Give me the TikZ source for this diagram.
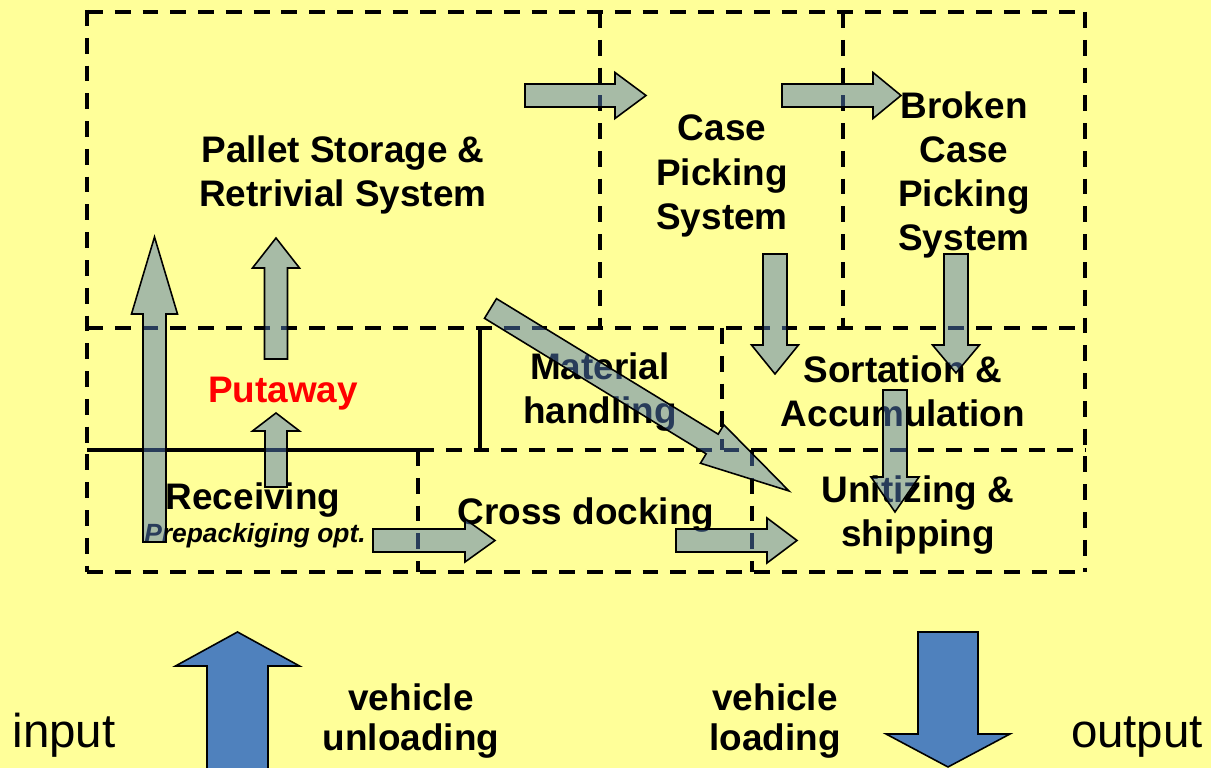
\documentclass[tikz,border=0pt]{standalone}
\usepackage{fontspec}
\setmainfont{Liberation Sans}
\usetikzlibrary{calc}
\definecolor{bg}{RGB}{255,255,153}
\definecolor{flowblue}{RGB}{80,120,180}
\definecolor{truckblue}{RGB}{79,129,189}
\tikzset{
  area/.style={draw,line width=1pt,dash pattern=on 4.5pt off 3.4pt},
  wall/.style={draw,line width=1pt},
  boxtext/.style={font=\bfseries\fontsize{10.5}{12.6}\selectfont,align=center,inner sep=0pt},
  flow/.style={draw=black,line width=0.45pt,fill=flowblue,fill opacity=0.5},
  truck/.style={draw=black,line width=0.45pt,fill=truckblue},
}
% tail, tip, shaft half width, head half width, head length
\newcommand{\blockarrow}[6][flow]{%
  \coordinate (ba-b) at ($(#3)!#6!(#2)$);
  \draw[#1] ($(#2)!#4!90:(#3)$) -- ($(ba-b)!#4!90:(#3)$) -- ($(ba-b)!#5!90:(#3)$)
    -- (#3) -- ($(ba-b)!#5!-90:(#3)$) -- ($(ba-b)!#4!-90:(#3)$)
    -- ($(#2)!#4!-90:(#3)$) -- cycle;
}
\begin{document}
\begin{tikzpicture}[x=0.01cm,y=-0.01cm]
	\useasboundingbox (0,0) rectangle (1211,768);
	\fill[bg] (0,0) rectangle (1211,768);
	
	\node[boxtext] (pallet) at (343,175) {Pallet Storage \&\\Retrivial System};
	\node[boxtext] (case) at (722,176) {Case\\Picking\\System};
	\node[boxtext] (broken) at (964,175) {Broken\\Case\\Picking\\System};
	\node[boxtext,text=red] (putaway) at (283,394) {Putaway};
	\node[boxtext] (mat) at (600,392) {Material\\handling};
	\node[boxtext] (sort) at (903,391) {Sortation \&\\Accumulation};
	\node[boxtext] (recv) at (253,500) {Receiving};
	\node[boxtext,font=\bfseries\itshape\fontsize{7.5}{9}\selectfont] (prepack) at (255,536) {Prepackiging opt.};
	\node[boxtext] (cross) at (586,515) {Cross docking};
	\node[boxtext] (unit) at (918,515) {Unitizing \&\\shipping};
	
	\node[boxtext,font=\bfseries\fontsize{10.5}{11.4}\selectfont] (unload) at (411,721) {vehicle\\unloading};
	\node[boxtext,font=\bfseries\fontsize{10.5}{11.4}\selectfont] (load) at (775,721) {vehicle\\loading};
	\node[inner sep=0pt,anchor=base,font=\fontsize{13.5}{16}\selectfont] (in) at (64,748) {input};
	\node[inner sep=0pt,anchor=base,font=\fontsize{13.5}{16}\selectfont] (out) at (1137,748) {output};
	
	\draw[area] (87,12) -- (1085,12);
	\draw[area] (87,328) -- (1085,328);
	\draw[area] (418,450) -- (1085,450);
	\draw[area] (87,572) -- (1085,572);
	\draw[wall] (87,450) -- (418,450);
	\draw[area] (87,10) -- (87,572);
	\draw[area] (1085,12) -- (1085,572);
	\draw[area] (600,12) -- (600,328);
	\draw[area] (843,12) -- (843,328);
	\draw[wall] (480,328) -- (480,450);
	\draw[area] (722,328) -- (722,450);
	\draw[area] (418,450) -- (418,572);
	\draw[area] (752,450) -- (752,572);
	
	\coordinate (a0) at (154.5,542); \coordinate (a1) at (154.5,237);
	\coordinate (b0) at (276,359);   \coordinate (b1) at (276,238);
	\coordinate (c0) at (276,487);   \coordinate (c1) at (276,413);
	\coordinate (d0) at (373,540.5); \coordinate (d1) at (495,540.5);
	\coordinate (e0) at (676,540.5); \coordinate (e1) at (797,540.5);
	\coordinate (f0) at (525,95.5);  \coordinate (f1) at (646,95.5);
	\coordinate (g0) at (782,95.5);  \coordinate (g1) at (901,95.5);
	\coordinate (h0) at (775,254);   \coordinate (h1) at (775,374);
	\coordinate (i0) at (956,254);   \coordinate (i1) at (956,373);
	\coordinate (j0) at (895,390);   \coordinate (j1) at (895,512);
	\coordinate (k0) at (490.5,308.5); \coordinate (k1) at (789,491);
	\coordinate (u0) at (237.5,780); \coordinate (u1) at (237.5,632);
	\coordinate (v0) at (948,632);   \coordinate (v1) at (948,767);
	
	\blockarrow{a0}{a1}{1.15mm}{2.3mm}{7.7mm}
	\blockarrow{b0}{b1}{1.15mm}{2.35mm}{3mm}
	\blockarrow{c0}{c1}{1.1mm}{2.35mm}{1.8mm}
	\blockarrow{d0}{d1}{1.15mm}{2.15mm}{3mm}
	\blockarrow{e0}{e1}{1.15mm}{2.25mm}{3mm}
	\blockarrow{f0}{f1}{1.15mm}{2.3mm}{3.1mm}
	\blockarrow{g0}{g1}{1.15mm}{2.3mm}{2.8mm}
	\blockarrow{h0}{h1}{1.2mm}{2.35mm}{2.9mm}
	\blockarrow{i0}{i1}{1.2mm}{2.35mm}{2.8mm}
	\blockarrow{j0}{j1}{1.2mm}{2.4mm}{3.5mm}
	\blockarrow{k0}{k1}{1.15mm}{2.25mm}{9mm}
	\blockarrow[truck]{u0}{u1}{3.05mm}{6.2mm}{3.4mm}
	\blockarrow[truck]{v0}{v1}{3mm}{6.2mm}{3.3mm}
\end{tikzpicture}
\end{document}
